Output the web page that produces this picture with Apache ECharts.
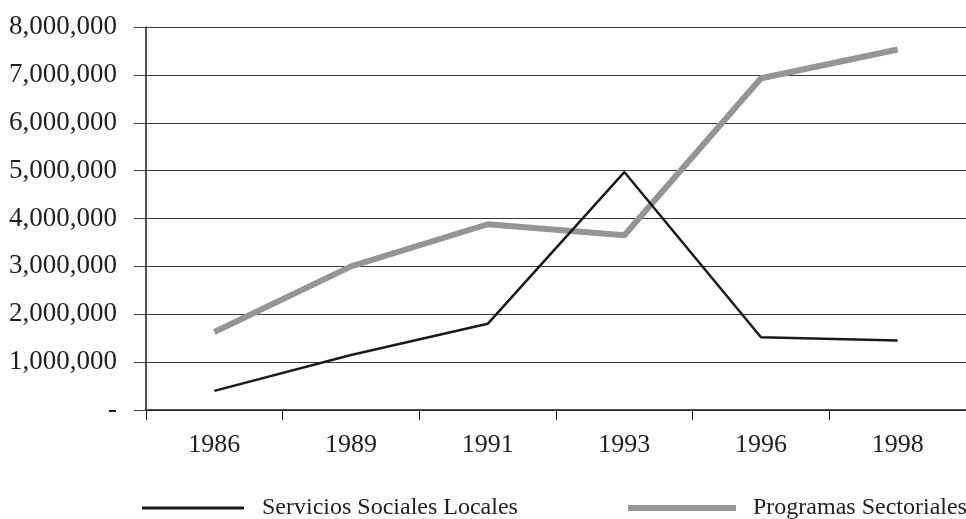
<!DOCTYPE html>
<html>
<head>
<meta charset="utf-8">
<script src="https://cdn.jsdelivr.net/npm/echarts@6/dist/echarts.min.js"></script>
<style>
  html, body { margin: 0; padding: 0; background: #fff; }
  #chart { width: 966px; height: 519px; }
</style>
</head>
<body>
<div id="chart"></div>
<script>
// Years on the horizontal axis
const years = ['1986', '1989', '1991', '1993', '1996', '1998'];

// Spending per programme line
const serviciosSociales = [400000, 1150000, 1800000, 4970000, 1520000, 1450000];
const programasSectoriales = [1630000, 3000000, 3880000, 3650000, 6930000, 7530000];

const seriesNames = ['Servicios Sociales Locales', 'Programas Sectoriales'];

// Value axis range
const yMin = 0;
const yMax = 8000000;
const yStep = 1000000;

const serif = '"Liberation Serif", "DejaVu Serif", serif';
const textColor = '#1f1f1f';

function formatThousands(v) {
  if (v === 0) return '-';
  return String(v).replace(/\B(?=(\d{3})+(?!\d))/g, ',');
}

const chart = echarts.init(document.getElementById('chart'), null, { renderer: 'canvas' });

chart.setOption({
  animation: false,
  backgroundColor: '#ffffff',
  grid: { left: 146, top: 27, width: 830, height: 383 },
  legend: [
    {
      data: [seriesNames[0]],
      left: 137,
      top: 491,
      icon: 'rect',
      itemWidth: 102,
      itemHeight: 3,
      textStyle: { fontFamily: serif, fontSize: 24, color: textColor, padding: [0, 0, 0, 13] }
    },
    {
      data: [seriesNames[1]],
      left: 623,
      top: 491,
      icon: 'rect',
      itemWidth: 108,
      itemHeight: 6,
      textStyle: { fontFamily: serif, fontSize: 24, color: textColor, padding: [0, 0, 0, 12] }
    }
  ],
  xAxis: {
    type: 'category',
    data: years,
    boundaryGap: true,
    axisLine: { show: true, lineStyle: { color: '#1a1a1a', width: 1.5 } },
    axisTick: { show: true, length: 10, lineStyle: { color: '#1a1a1a', width: 1 } },
    axisLabel: { fontFamily: serif, fontSize: 26, color: textColor, margin: 22 },
    splitLine: { show: false }
  },
  yAxis: {
    type: 'value',
    min: yMin,
    max: yMax,
    interval: yStep,
    axisLine: { show: true, lineStyle: { color: '#1a1a1a', width: 1.5 } },
    axisTick: { show: true, length: 12, lineStyle: { color: '#444', width: 1 } },
    axisLabel: {
      fontFamily: serif, fontSize: 27, color: textColor, margin: 29,
      padding: [0, 0, 6, 0],
      formatter: formatThousands
    },
    splitLine: { show: true, lineStyle: { color: '#3a3a3a', width: 1 } }
  },
  series: [
    {
      name: seriesNames[0],
      type: 'line',
      data: serviciosSociales,
      showSymbol: false,
      symbol: 'none',
      lineStyle: { color: '#1a1a1a', width: 2.5 },
      itemStyle: { color: '#1a1a1a' },
      z: 3
    },
    {
      name: seriesNames[1],
      type: 'line',
      data: programasSectoriales,
      showSymbol: false,
      symbol: 'none',
      lineStyle: { color: '#959597', width: 6 },
      itemStyle: { color: '#959597' },
      z: 2
    }
  ]
});
</script>
</body>
</html>
